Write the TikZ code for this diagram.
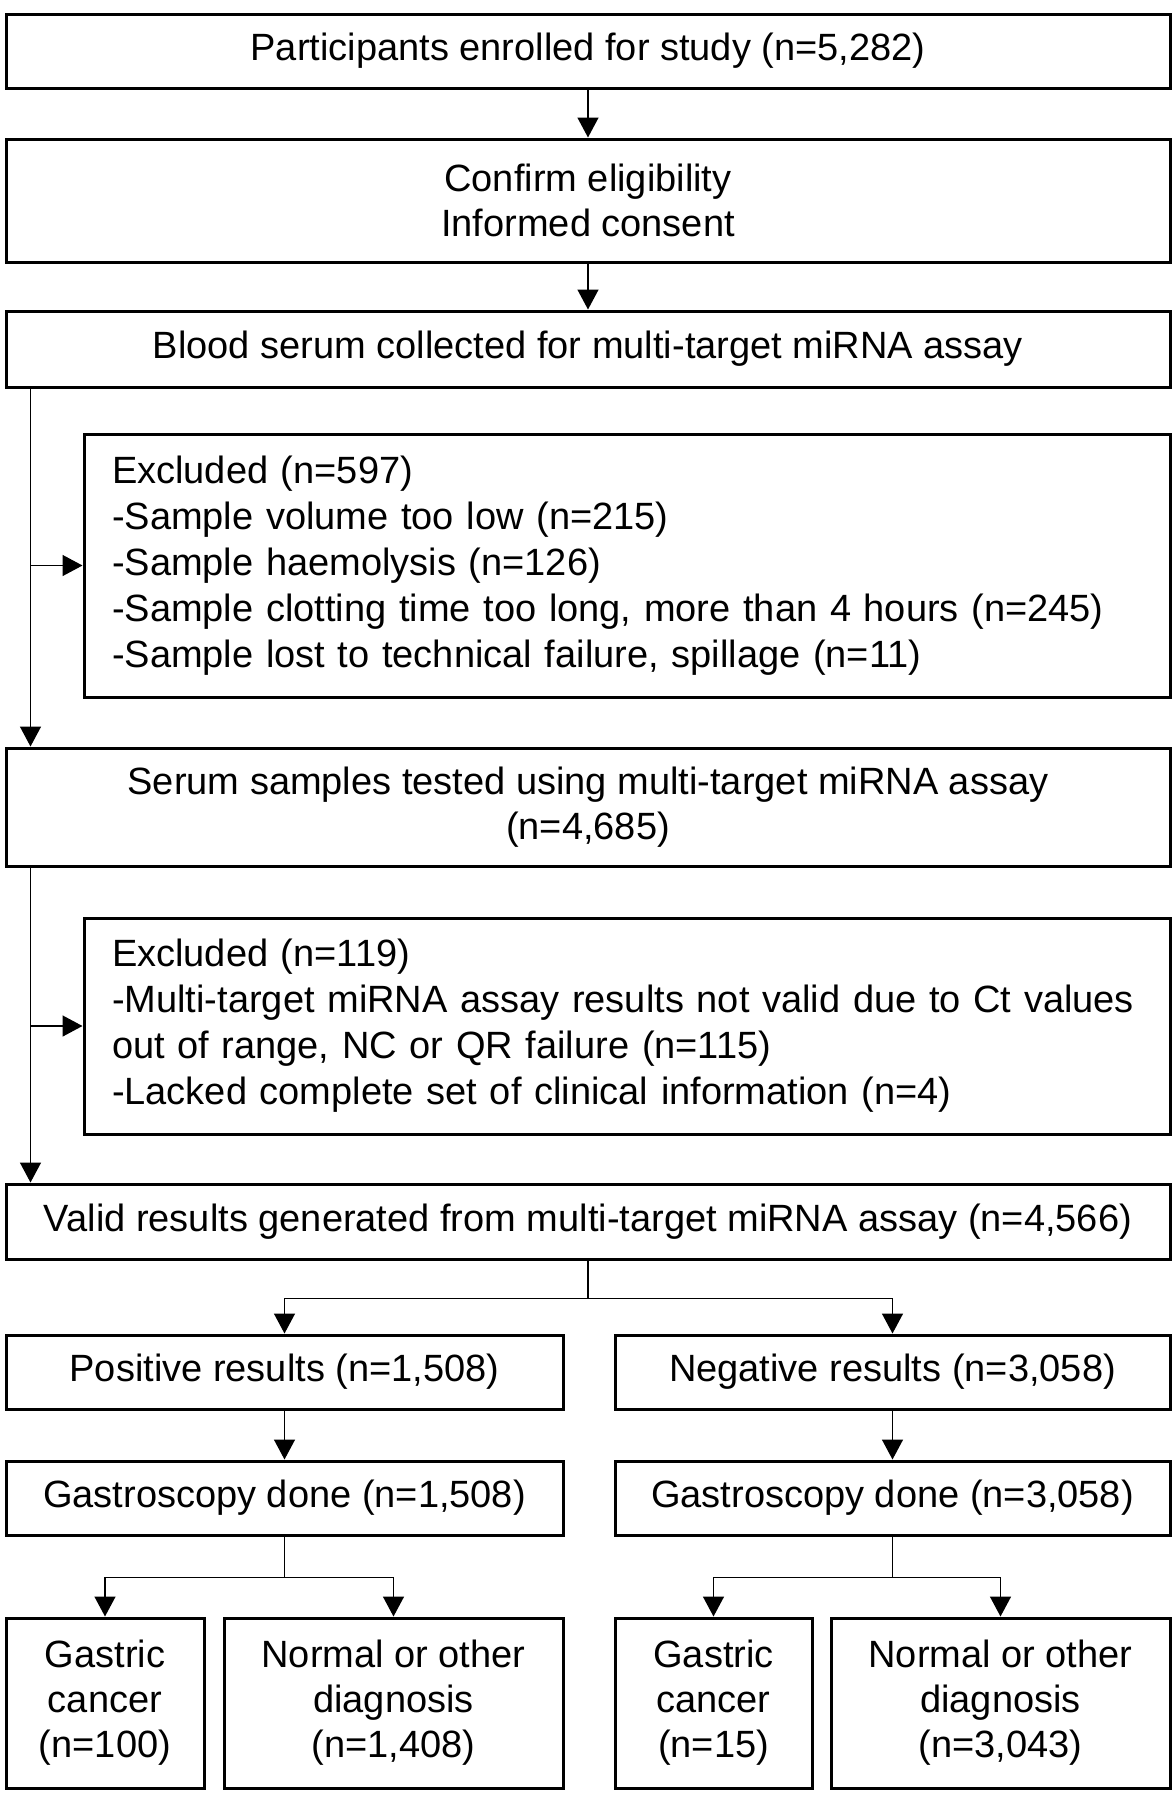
\documentclass[tikz,border=0pt]{standalone}
\usepackage{fontspec}
\setmainfont{Liberation Sans}
\usetikzlibrary{arrows.meta}
\begin{document}
\begin{tikzpicture}[x=1pt,y=-1pt,
  box/.style={draw, line width=3pt, inner sep=0pt, align=center,
    font=\fontsize{38}{45}\selectfont},
  exbox/.style={draw, line width=3pt, inner sep=0pt, align=left,
    font=\fontsize{38}{46}\selectfont},
  arr/.style={line width=1.5pt, -{Triangle[length=20pt,width=21pt]}},
  ln/.style={line width=1.5pt}]
\useasboundingbox (0,0) rectangle (1175,1800);
\node[box, minimum width=1164pt, minimum height=74pt] (b1) at (588,51) {Participants enrolled for study (n=5,282)};
\node[box, minimum width=1164pt, minimum height=123pt] (b2) at (588,200.5) {Confirm eligibility\\Informed consent};
\node[box, minimum width=1164pt, minimum height=76pt] (b3) at (588,349) {Blood serum collected for multi-target miRNA assay};
\node[exbox, minimum width=1086pt, minimum height=263pt, text width=1030pt] (e1) at (627,565.5) {Excluded (n=597)\\-Sample volume too low (n=215)\\-Sample haemolysis (n=126)\\-Sample clotting time too long, more than 4 hours (n=245)\\-Sample lost to technical failure, spillage (n=11)};
\node[box, minimum width=1164pt, minimum height=118pt] (b4) at (588,807) {Serum samples tested using multi-target miRNA assay\\(n=4,685)};
\node[exbox, minimum width=1086pt, minimum height=216pt, text width=1030pt] (e2) at (627,1026) {Excluded (n=119)\\-Multi-target miRNA assay results not valid due to Ct values\\out of range, NC or QR failure (n=115)\\-Lacked complete set of clinical information (n=4)};
\node[box, minimum width=1164pt, minimum height=75pt] (b5) at (588,1221.5) {Valid results generated from multi-target miRNA assay (n=4,566)};
\node[box, minimum width=557pt, minimum height=74pt] (pos) at (284.5,1372) {Positive results (n=1,508)};
\node[box, minimum width=555pt, minimum height=74pt] (neg) at (892.5,1372) {Negative results (n=3,058)};
\node[box, minimum width=557pt, minimum height=74pt] (gl) at (284.5,1498) {Gastroscopy done (n=1,508)};
\node[box, minimum width=555pt, minimum height=74pt] (gr) at (892.5,1498) {Gastroscopy done (n=3,058)};
\node[box, minimum width=198pt, minimum height=170pt] (cl) at (105,1703) {Gastric\\cancer\\(n=100)};
\node[box, minimum width=339pt, minimum height=170pt] (nl) at (393.5,1703) {Normal or other\\diagnosis\\(n=1,408)};
\node[box, minimum width=197pt, minimum height=170pt] (cr) at (713.5,1703) {Gastric\\cancer\\(n=15)};
\node[box, minimum width=339pt, minimum height=170pt] (nr) at (1000.5,1703) {Normal or other\\diagnosis\\(n=3,043)};
% connectors
\draw[arr] (b1) -- (b2);
\draw[arr] (b2) -- (b3);
\coordinate (s1) at ([xshift=26pt]b3.south west);
\draw[arr] (s1) -- ([xshift=26pt]b4.north west);
\draw[arr] (s1 |- e1.west) -- (e1.west);
\coordinate (s2) at ([xshift=26pt]b4.south west);
\draw[arr] (s2) -- ([xshift=26pt]b5.north west);
\draw[arr] (s2 |- e2.west) -- (e2.west);
\draw[ln] (b5.south) -- ++(0,38) coordinate (j1);
\draw[arr] (j1) -| (pos.north);
\draw[arr] (j1) -| (neg.north);
\draw[arr] (pos) -- (gl);
\draw[arr] (neg) -- (gr);
\draw[ln] (gl.south) -- ++(0,41) coordinate (j2);
\draw[arr] (j2) -| (cl.north);
\draw[arr] (j2) -| (nl.north);
\draw[ln] (gr.south) -- ++(0,41) coordinate (j3);
\draw[arr] (j3) -| (cr.north);
\draw[arr] (j3) -| (nr.north);
\end{tikzpicture}
\end{document}
